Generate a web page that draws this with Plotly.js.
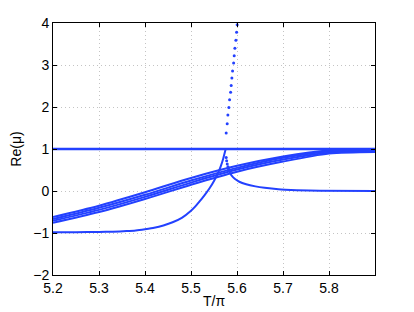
<!DOCTYPE html>
<html>
<head>
<meta charset="utf-8">
<script src="https://cdn.plot.ly/plotly-3.0.1.min.js"></script>
<style>html,body{margin:0;padding:0;background:#fff;}#chart{width:414px;height:312px;}</style>
</head>
<body>
<div id="chart"></div>
<script>
// Data
var unitX = [5.2, 5.9];
var unitY = [1, 1];

var bandX = [5.2, 5.3, 5.4, 5.5, 5.6, 5.7, 5.8, 5.9];
var band1 = [-0.62, -0.35, -0.03, 0.31, 0.60, 0.82, 0.97, 1.00];
var band2 = [-0.67, -0.40, -0.09, 0.25, 0.55, 0.79, 0.94, 0.98];
var band3 = [-0.71, -0.45, -0.14, 0.20, 0.51, 0.75, 0.91, 0.95];
var band4 = [-0.755, -0.50, -0.19, 0.15, 0.46, 0.70, 0.89, 0.93];

var riseX = [5.2, 5.25, 5.3, 5.33, 5.36, 5.38, 5.4, 5.42, 5.44, 5.46, 5.48, 5.5, 5.51, 5.52, 5.53, 5.54, 5.55, 5.56, 5.565, 5.57, 5.575];
var riseY = [-0.98, -0.98, -0.975, -0.968, -0.955, -0.94, -0.91, -0.875, -0.82, -0.745, -0.64, -0.47, -0.36, -0.23, -0.09, 0.06, 0.24, 0.46, 0.60, 0.77, 0.98];

var upDotsX = [5.5765, 5.5787, 5.5802, 5.5824, 5.5839, 5.5861, 5.5874, 5.5889, 5.5904, 5.5926, 5.5939, 5.5954, 5.5976, 5.5991, 5.6004];
var upDotsY = [1.38, 1.60, 1.81, 1.99, 2.17, 2.35, 2.51, 2.69, 2.86, 3.05, 3.22, 3.40, 3.59, 3.78, 3.96];

var lowDotsX = [5.5765, 5.5775, 5.5788, 5.5803, 5.582];
var lowDotsY = [0.80, 0.72, 0.645, 0.58, 0.515];

var decayX = [5.582, 5.5835, 5.588, 5.595, 5.605, 5.62, 5.64, 5.66, 5.69, 5.73, 5.78, 5.9];
var decayY = [0.515, 0.46, 0.37, 0.29, 0.22, 0.16, 0.11, 0.075, 0.04, 0.02, 0.005, 0];

var xTicks = [5.2, 5.3, 5.4, 5.5, 5.6, 5.7, 5.8];
var yTicks = [-2, -1, 0, 1, 2, 3, 4];

var blue = 'rgb(35,65,255)';
function line(x, y, w, shape, sm) {
  return {x: x, y: y, type: 'scatter', mode: 'lines', line: {color: blue, width: w, shape: shape || 'linear', smoothing: sm || 0.8}, hoverinfo: 'skip', showlegend: false};
}
function dots(x, y) {
  return {x: x, y: y, type: 'scatter', mode: 'markers', marker: {color: blue, size: 3}, hoverinfo: 'skip', showlegend: false};
}

var data = [
  line(unitX, unitY, 2.5),
  line(bandX, band1, 2, 'spline'),
  line(bandX, band2, 2, 'spline'),
  line(bandX, band3, 2, 'spline'),
  line(bandX, band4, 2, 'spline'),
  line(riseX, riseY, 2, 'spline', 0.5),
  line(decayX, decayY, 2, 'spline', 0.6),
  dots(upDotsX, upDotsY),
  dots(lowDotsX, lowDotsY)
];

var font = {family: 'Liberation Sans, Arial, Helvetica, sans-serif', size: 14, color: '#000'};
var axisCommon = {
  showline: true, linecolor: '#000', linewidth: 1, mirror: 'ticks',
  ticks: 'inside', ticklen: 4, tickcolor: '#000',
  showgrid: true, gridcolor: '#c4c4c4', griddash: '1px,3px', gridwidth: 1,
  zeroline: false, tickfont: font
};

var layout = {
  width: 414, height: 312,
  margin: {l: 53, r: 39, t: 23, b: 37},
  paper_bgcolor: '#fff', plot_bgcolor: '#fff',
  font: font,
  xaxis: Object.assign({}, axisCommon, {
    range: [5.2, 5.9], tickvals: xTicks, ticktext: xTicks.map(function(v){return v.toFixed(1);}),
    title: {text: 'T/π', font: font, standoff: 1}
  }),
  yaxis: Object.assign({}, axisCommon, {
    range: [-2, 4], tickvals: yTicks,
    title: {text: 'Re(μ)', font: font, standoff: 8}
  })
};

Plotly.newPlot('chart', data, layout, {staticPlot: true, displayModeBar: false});
</script>
</body>
</html>
